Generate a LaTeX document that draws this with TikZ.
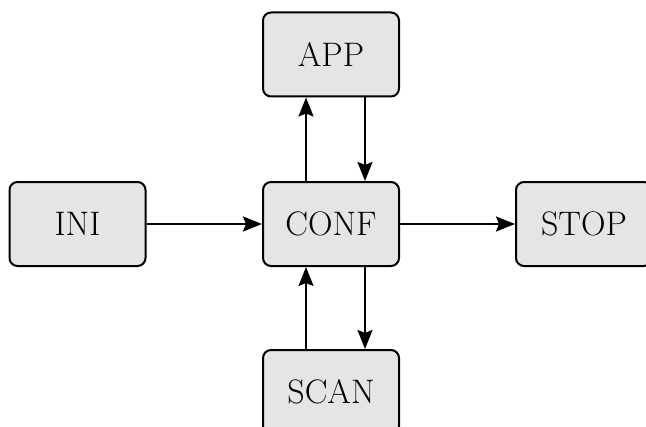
\documentclass[tikz,border=0pt]{standalone}
\usetikzlibrary{arrows.meta}
\definecolor{boxfill}{RGB}{228,229,231}
\begin{document}
\begin{tikzpicture}[x=0.5pt,y=-0.5pt,
  box/.style={draw=black,fill=boxfill,rounded corners=4pt,line width=1pt,
    minimum width=68pt,minimum height=42pt,inner sep=0pt,
    font=\fontsize{17}{20}\selectfont},
  conn/.style={line width=1pt,-{Stealth[length=9.5pt,width=7.5pt,inset=1.5pt]}}]
\clip (0,0) rectangle (646,427);
\fill[white] (0,0) rectangle (646,427);
\node[box] (INI) at (77.5,224) {INI};
\node[box] (CONF) at (331,224) {CONF};
\node[box] (APP) at (331,54.5) {APP};
\node[box] (STOP) at (584,224) {STOP};
\node[box] (SCAN) at (331,392) {SCAN};
\draw[conn] (INI.east) -- (CONF.west);
\draw[conn] (CONF.east) -- (STOP.west);
\draw[conn] ([xshift=-12.5pt]CONF.north) -- ([xshift=-12.5pt]APP.south);
\draw[conn] ([xshift=17pt]APP.south) -- ([xshift=17pt]CONF.north);
\draw[conn] ([xshift=17pt]CONF.south) -- ([xshift=17pt]SCAN.north);
\draw[conn] ([xshift=-12.5pt]SCAN.north) -- ([xshift=-12.5pt]CONF.south);
\end{tikzpicture}
\end{document}
